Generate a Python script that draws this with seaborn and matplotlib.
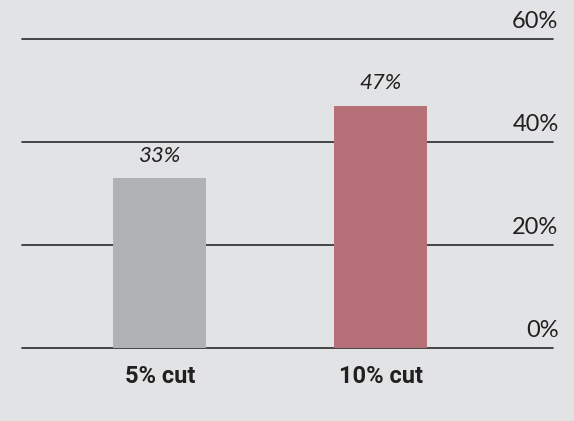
import matplotlib
matplotlib.use("Agg")
import matplotlib.pyplot as plt
import matplotlib.transforms as mtrans
import pandas as pd
import seaborn as sns

# valores do gráfico
categorias = ["5% cut", "10% cut"]
valores = [33, 47]
cores = ["#b0b1b4", "#b57078"]
ticks_y = [0, 20, 40, 60]
rotulos_y = ["0%", "20%", "40%", "60%"]

df = pd.DataFrame({"cat": categorias, "val": valores})

sns.set_style("white")
plt.rcParams["font.family"] = ["Lato", "DejaVu Sans"]
fundo = "#e2e3e5"
texto = "#231f20"

fig = plt.figure(figsize=(5.74, 4.21), dpi=100, facecolor=fundo)
ax = fig.add_axes([22 / 574, 73 / 421, 531 / 574, 309 / 421])
ax.set_facecolor(fundo)

sns.barplot(data=df, x="cat", y="val", hue="cat", palette=cores,
            width=0.42, legend=False, ax=ax, saturation=1,
            linewidth=0, edgecolor="none")

ax.set_xlim(-0.624, 1.78)
ax.set_ylim(0, 60)
ax.set_yticks(ticks_y)
ax.set_yticklabels(rotulos_y)
ax.yaxis.tick_right()
for s in ax.spines.values():
    s.set_visible(False)

# linhas horizontais
for t in ticks_y:
    ax.axhline(t, color="#2a2a2a", lw=1.2, zorder=0.5, clip_on=False)

ax.tick_params(axis="y", length=0, pad=4, labelsize=17, labelcolor=texto)
desloc = mtrans.ScaledTranslation(0, 5 / 72, fig.dpi_scale_trans)
for lab in ax.get_yticklabels():
    lab.set_ha("right")
    lab.set_va("bottom")
    lab.set_transform(lab.get_transform() + desloc)

ax.tick_params(axis="x", length=0, pad=12, labelcolor=texto)
for lab in ax.get_xticklabels():
    lab.set_fontfamily(["Liberation Sans Narrow", "Roboto"])
    lab.set_fontweight("bold")
    lab.set_fontsize(17)
ax.set_xlabel("")
ax.set_ylabel("")

# rótulos das barras
for c in ax.containers:
    ax.bar_label(c, fmt="%d%%", padding=9, fontsize=16, style="italic",
                 color=texto)

fig.savefig("out.png", dpi=100, facecolor=fundo)
